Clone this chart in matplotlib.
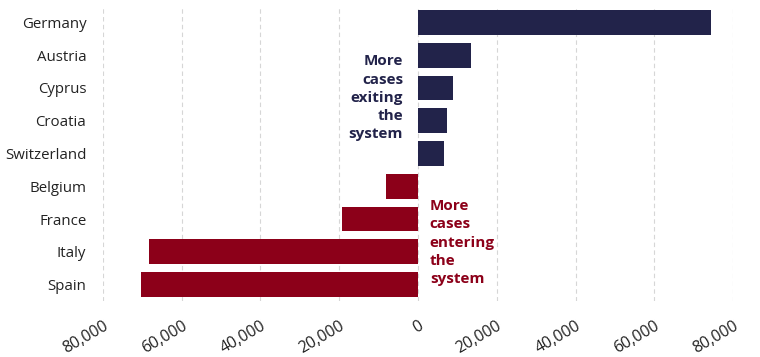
import matplotlib.pyplot as plt
from matplotlib.ticker import FuncFormatter

# Data
countries = ["Germany", "Austria", "Cyprus", "Croatia", "Switzerland",
             "Belgium", "France", "Italy", "Spain"]
net_cases = [74500, 13400, 8900, 7300, 6700, -8100, -19300, -68300, -70400]

navy = "#22234a"
red = "#8c0019"
colors = [navy if v > 0 else red for v in net_cases]

plt.rcParams['font.family'] = ['Open Sans', 'DejaVu Sans']

fig = plt.figure(figsize=(7.6, 3.57), dpi=100)
ax = fig.add_axes([0.1355, 0.157, 0.829, 0.826])

ypos = list(range(len(countries)))
ax.barh(ypos, net_cases, height=0.76, color=colors, zorder=3)

ax.set_ylim(len(countries) - 0.5, -0.5)
ax.set_yticks(ypos)
ax.set_yticklabels(countries, fontsize=10.8, color="#222222")

ax.set_xlim(-80000, 80000)
ax.set_xticks(range(-80000, 80001, 20000))
ax.xaxis.set_major_formatter(FuncFormatter(lambda v, p: f"{abs(int(v)):,}"))
for lbl in ax.get_xticklabels():
    lbl.set_rotation(30)
    lbl.set_ha("right")
    lbl.set_rotation_mode("anchor")
    lbl.set_fontsize(11.5)
    lbl.set_color("#222222")

ax.tick_params(axis="both", length=0)
ax.tick_params(axis="x", pad=12)
ax.tick_params(axis="y", pad=12)
ax.grid(axis="x", color="#d6d6d6", linestyle=(0, (4, 3)), linewidth=0.8, zorder=0)
for s in ax.spines.values():
    s.set_visible(False)

ax.text(-3800, 2.3, "More\ncases\nexiting\nthe\nsystem", ha="right", va="center",
        fontsize=11, fontweight="bold", color=navy, linespacing=1.38)
ax.text(3000, 6.72, "More\ncases\nentering\nthe\nsystem", ha="left", va="center",
        fontsize=11, fontweight="bold", color=red, linespacing=1.38)

fig.savefig("out.png", dpi=100)
